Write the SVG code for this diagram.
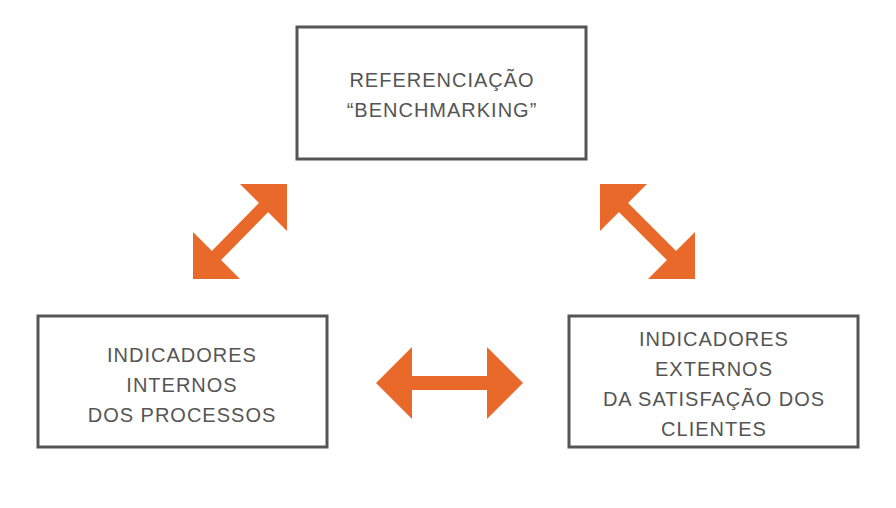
<svg xmlns="http://www.w3.org/2000/svg" width="896" height="508" viewBox="0 0 896 508">
<style>
.box{fill:#fff;stroke:#555;stroke-width:3}
.t{font-family:"Liberation Sans",Arial,sans-serif;font-size:20px;fill:#555;text-anchor:middle;letter-spacing:1px}
.a{fill:#E8692A}
.s{stroke:#E8692A;stroke-width:13}
</style>
<rect width="896" height="508" fill="#fff"/>
<g id="top"><rect class="box" x="297" y="27" width="289" height="132"/>
<text class="t" x="442" y="87">REFERENCIAÇÃO</text><text class="t" x="442" y="117">“BENCHMARKING”</text></g>
<g id="left"><rect class="box" x="38" y="316" width="289" height="131"/>
<text class="t" x="182" y="362">INDICADORES</text><text class="t" x="182" y="392">INTERNOS</text><text class="t" x="182" y="422">DOS PROCESSOS</text></g>
<g id="right"><rect class="box" x="569" y="316" width="289" height="131"/>
<text class="t" x="714" y="346">INDICADORES</text><text class="t" x="714" y="376">EXTERNOS</text><text class="t" x="714" y="406">DA SATISFAÇÃO DOS</text><text class="t" x="714" y="436">CLIENTES</text></g>
<g id="connectors">
<line class="s" x1="212" y1="260" x2="268" y2="203"/>
<polygon class="a" points="193,279 193,232 240,279"/>
<polygon class="a" points="287,184 240,184 287,231"/>
<line class="s" x1="619" y1="203" x2="676" y2="260"/>
<polygon class="a" points="600,184 647,184 600,231"/>
<polygon class="a" points="695,279 648,279 695,232"/>
<rect class="a" x="405" y="376" width="88" height="14"/>
<polygon class="a" points="376,383 412,347 412,419"/>
<polygon class="a" points="523,383 487,347 487,419"/>
</g>
</svg>
